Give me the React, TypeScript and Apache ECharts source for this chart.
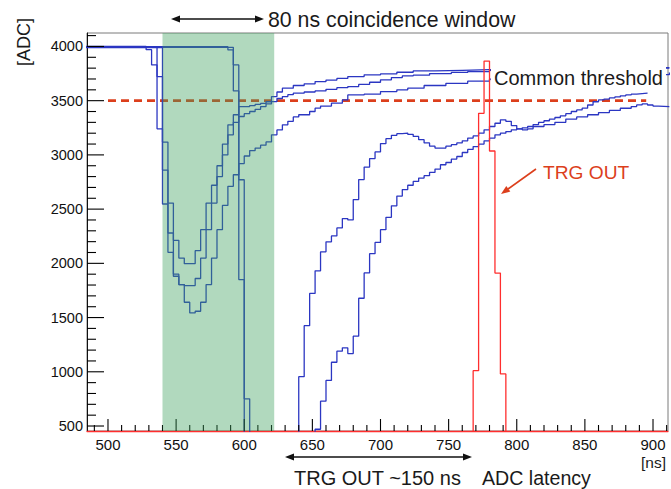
import React, { useEffect, useRef } from 'react';
import * as echarts from 'echarts';

// ---------- axis ranges / annotations (data units) ----------
const X_RANGE = [484.6, 911];
const Y_RANGE = [454, 4124];
const X_TICKS = [
  490, 500, 510, 520, 530, 540, 550, 560, 570, 580, 590, 600, 610, 620, 630, 640, 650, 660, 670, 680, 690, 700,
  710, 720, 730, 740, 750, 760, 770, 780, 790, 800, 810, 820, 830, 840, 850, 860, 870, 880, 890, 900, 910,
];
const Y_TICKS = [
  500, 600, 700, 800, 900, 1000, 1100, 1200, 1300, 1400, 1500, 1600, 1700, 1800, 1900, 2000, 2100, 2200, 2300,
  2400, 2500, 2600, 2700, 2800, 2900, 3000, 3100, 3200, 3300, 3400, 3500, 3600, 3700, 3800, 3900, 4000, 4100,
];
const COINCIDENCE_WINDOW = [540, 622];
const THRESHOLD = 3500;
const THRESHOLD_RANGE = [500, 895];

// ---------- histogram traces: [bin low edge (ns), ADC] change points ----------
const TRACE_U1 = [
  [484, 3995], [536, 3240], [540, 3118], [544, 2556], [548, 2212], [552, 2049], [556, 1997], [564, 2117],
  [568, 2310], [572, 2556], [576, 2720], [580, 2900], [584, 3100], [588, 3277], [592, 3370], [596, 3446],
  [604, 3455], [608, 3465], [612, 3475], [616, 3490], [620, 3538], [624, 3580], [628, 3615], [636, 3640],
  [644, 3655], [652, 3676], [660, 3690], [668, 3705], [676, 3722], [688, 3738], [700, 3747], [712, 3762],
  [724, 3774], [740, 3780], [760, 3786], [780, 3792], [840, 3805], [912, 3805],
];
const TRACE_U2 = [
  [484, 4000], [528, 3970], [532, 3830], [536, 3722], [540, 2547], [544, 2280], [548, 1881], [552, 1804],
  [556, 1795], [564, 1860], [568, 2049], [572, 2310], [576, 2556], [580, 2800], [584, 3000], [588, 3185],
  [592, 3300], [596, 3354], [600, 3380], [604, 3400], [608, 3420], [612, 3446], [616, 3470], [620, 3492],
  [624, 3520], [628, 3538], [632, 3555], [636, 3569], [644, 3580], [652, 3590], [660, 3605], [668, 3620],
  [676, 3630], [684, 3650], [692, 3670], [700, 3692], [708, 3713], [716, 3728], [724, 3735], [736, 3750],
  [752, 3760], [764, 3768], [780, 3780], [820, 3790], [880, 3800], [912, 3800],
];
const TRACE_U3 = [
  [484, 3990], [540, 2860], [544, 2102], [548, 1900], [552, 1804], [556, 1641], [560, 1543], [564, 1558],
  [568, 1641], [572, 1804], [576, 2049], [580, 2310], [584, 2534], [588, 2710], [592, 2817], [596, 2920],
  [600, 2990], [604, 3040], [608, 3063], [612, 3090], [616, 3120], [620, 3185], [624, 3230], [628, 3277],
  [632, 3310], [636, 3350], [640, 3370], [648, 3400], [652, 3431], [656, 3450], [664, 3477], [672, 3507],
  [676, 3553], [688, 3560], [700, 3584], [712, 3600], [720, 3615], [732, 3640], [748, 3660], [764, 3680],
  [780, 3698], [820, 3720], [860, 3740], [912, 3760],
];
const TRACE_D = [
  [484, 3998], [588, 3968], [592, 3830], [596, 2771], [600, 0], [640, 955], [644, 1425], [648, 1723],
  [652, 1931], [656, 2106], [660, 2198], [664, 2253], [668, 2327], [672, 2413], [676, 2400], [680, 2588],
  [684, 2772], [688, 2888], [692, 2966], [696, 3027], [700, 3104], [704, 3150], [708, 3180], [712, 3196],
  [716, 3201], [720, 3190], [724, 3170], [728, 3140], [732, 3110], [736, 3080], [740, 3063], [748, 3080],
  [752, 3094], [756, 3110], [760, 3130], [764, 3155], [768, 3175], [772, 3200], [776, 3231], [780, 3262],
  [784, 3292], [788, 3323], [792, 3310], [796, 3270], [800, 3240], [804, 3231], [808, 3240], [812, 3262],
  [820, 3280], [828, 3300], [836, 3330], [844, 3350], [852, 3370], [860, 3390], [868, 3410], [876, 3430],
  [884, 3446], [888, 3461], [892, 3470], [896, 3460], [900, 3450], [904, 3446], [912, 3446],
];
const TRACE_E = [
  [484, 3992], [592, 3590], [596, 1850], [600, 751], [604, 0], [652, 470], [656, 729], [660, 920],
  [664, 1088], [668, 1190], [672, 1221], [676, 1168], [680, 1328], [684, 1678], [688, 1912], [692, 2089],
  [696, 2193], [700, 2310], [704, 2424], [708, 2530], [712, 2620], [716, 2680], [720, 2720], [724, 2755],
  [728, 2786], [732, 2808], [736, 2838], [740, 2869], [744, 2909], [748, 2930], [752, 2961], [756, 2985],
  [760, 3022], [764, 3050], [768, 3077], [772, 3100], [776, 3130], [780, 3155], [784, 3185], [788, 3200],
  [792, 3215], [796, 3231], [800, 3240], [804, 3250], [808, 3262], [812, 3280], [816, 3300], [820, 3315],
  [824, 3330], [828, 3345], [832, 3360], [836, 3380], [840, 3400], [844, 3415], [848, 3431], [852, 3460],
  [856, 3490], [860, 3507], [864, 3515], [868, 3525], [872, 3535], [876, 3545], [880, 3553], [884, 3560],
  [888, 3565], [892, 3569], [896, 3569],
];
const TRACE_TRG_OUT = [
  [484, 0], [768, 1010], [772, 3383], [776, 3865], [780, 3036], [784, 1910], [788, 980], [792, 0], [912, 0],
];

const FONT = '"Liberation Sans", Arial, Helvetica, sans-serif';
const BLUE = '#2b36c2';
const RED = '#ff2e2e';
const ORANGE = '#dc3f1c';
const INK = '#1a1a1a';

const stepSeries = (name: string, data: number[][], color: string, width: number, z: number) => ({
  type: 'line',
  name,
  data,
  step: 'end',
  symbol: 'none',
  showSymbol: false,
  clip: true,
  silent: true,
  z,
  lineStyle: { color, width },
});

const arrowHead = (tip: number[], base1: number[], base2: number[], color: string) => ({
  type: 'polygon',
  z: 100,
  shape: { points: [tip, base1, base2] },
  style: { fill: color },
});

const text = (t: string, x: number, y: number, size: number, color = INK) => ({
  type: 'text',
  x,
  y,
  z: 101,
  style: { text: t, fill: color, font: `${size}px ${FONT}`, verticalAlign: 'middle', align: 'left' },
});

export default function App() {
  const ref = useRef<HTMLDivElement>(null);

  useEffect(() => {
    const chart = echarts.init(ref.current!, null, { renderer: 'svg' });
    const xLabel = (v: number) => (Math.abs(v % 50) < 1e-6 ? String(v) : '');
    const yLabel = (v: number) => (Math.abs(v % 500) < 1e-6 ? String(v) : '');

    // ticks drawn through the axes' scales (pixel lengths applied after coordinate conversion)
    const tickRender = (isX: boolean) => (_params: any, api: any) => {
      const children: any[] = [];
      const list = isX ? X_TICKS : Y_TICKS;
      list.forEach((v) => {
        if (isX) {
          const p = api.coord([v, Y_RANGE[0]]);
          const len = v % 50 === 0 ? 12 : 6;
          children.push({ type: 'line', shape: { x1: p[0], y1: p[1], x2: p[0], y2: p[1] - len }, style: { stroke: '#000', lineWidth: 1.1 } });
        } else {
          const p = api.coord([X_RANGE[0], v]);
          const len = v % 500 === 0 ? 17 : 9;
          children.push({ type: 'line', shape: { x1: p[0], y1: p[1], x2: p[0] + len, y2: p[1] }, style: { stroke: '#000', lineWidth: 1.1 } });
        }
      });
      return { type: 'group', children };
    };

    const option: any = {
      animation: false,
      backgroundColor: '#ffffff',
      grid: {
        left: 87,
        right: 3,
        top: 33,
        bottom: 58,
        show: true,
        borderColor: '#7a7a7a',
        borderWidth: 1,
        containLabel: false,
        outerBoundsMode: 'none',
      },
      xAxis: {
        type: 'value',
        min: X_RANGE[0],
        max: X_RANGE[1],
        splitNumber: 8,
        minInterval: 50,
        maxInterval: 50,
        axisLine: { show: true, onZero: false, lineStyle: { color: RED, width: 1.3 } },
        axisTick: { show: false },
        minorTick: { show: false },
        axisLabel: { formatter: xLabel, margin: 6, color: '#111', fontSize: 15, fontFamily: FONT },
        splitLine: { show: false },
      },
      yAxis: {
        type: 'value',
        min: Y_RANGE[0],
        max: Y_RANGE[1],
        splitNumber: 7,
        minInterval: 500,
        maxInterval: 500,
        axisLine: { show: true, onZero: false, lineStyle: { color: '#111', width: 1 } },
        axisTick: { show: false },
        axisLabel: { formatter: yLabel, margin: 4, color: '#111', fontSize: 14.5, fontFamily: FONT },
        splitLine: { show: false },
      },
      series: [
        {
          type: 'line',
          name: 'threshold',
          data: [[THRESHOLD_RANGE[0], THRESHOLD], [THRESHOLD_RANGE[1], THRESHOLD]],
          symbol: 'none',
          silent: true,
          z: 1,
          lineStyle: { color: ORANGE, width: 2.6, type: [8, 5] },
        },
        stepSeries('U1', TRACE_U1, BLUE, 1.3, 3),
        stepSeries('U2', TRACE_U2, BLUE, 1.3, 3),
        stepSeries('U3', TRACE_U3, BLUE, 1.3, 3),
        stepSeries('D', TRACE_D, BLUE, 1.3, 3),
        stepSeries('E', TRACE_E, BLUE, 1.3, 3),
        stepSeries('TRG OUT', TRACE_TRG_OUT, RED, 1.3, 4),
        {
          type: 'custom',
          name: 'x ticks',
          coordinateSystem: 'cartesian2d',
          silent: true,
          z: 6,
          data: [[X_TICKS[0], Y_RANGE[0]]],
          renderItem: tickRender(true),
        },
        {
          type: 'custom',
          name: 'y ticks',
          coordinateSystem: 'cartesian2d',
          silent: true,
          z: 6,
          data: [[X_RANGE[0], Y_TICKS[0]]],
          renderItem: tickRender(false),
        },
        {
          type: 'line',
          name: 'window',
          data: [[COINCIDENCE_WINDOW[0], THRESHOLD], [COINCIDENCE_WINDOW[1], THRESHOLD]],
          symbol: 'none',
          silent: true,
          z: 10,
          lineStyle: { opacity: 0 },
          markArea: {
            silent: true,
            z: 10,
            itemStyle: { color: 'rgba(60,160,92,0.4)', borderWidth: 0 },
            data: [[{ xAxis: COINCIDENCE_WINDOW[0] }, { xAxis: COINCIDENCE_WINDOW[1] }]],
          },
        },
      ],
      graphic: [
        // title + double arrow
        { type: 'line', z: 100, shape: { x1: 177, y1: 19, x2: 258, y2: 19 }, style: { stroke: '#111', lineWidth: 1.3 } },
        arrowHead([171, 19], [180, 15.5], [180, 22.5], '#111'),
        arrowHead([264, 19], [255, 15.5], [255, 22.5], '#111'),
        text('80 ns coincidence window', 268, 20, 21.3),
        // legend-like box
        { type: 'rect', z: 60, shape: { x: 491, y: 58, width: 175, height: 33 }, style: { fill: '#ffffff' } },
        text('Common threshold', 494, 78, 20),
        // TRG OUT label + arrow
        text('TRG OUT', 543, 172, 19.2, ORANGE),
        { type: 'line', z: 100, shape: { x1: 536, y1: 169, x2: 508, y2: 189 }, style: { stroke: ORANGE, lineWidth: 1.6 } },
        arrowHead([501, 194], [510.3, 191.6], [506.3, 185.9], ORANGE),
        // bottom double arrow
        { type: 'line', z: 100, shape: { x1: 291, y1: 457, x2: 466, y2: 457 }, style: { stroke: '#111', lineWidth: 1.3 } },
        arrowHead([285, 457], [294, 453.5], [294, 460.5], '#111'),
        arrowHead([472, 457], [463, 453.5], [463, 460.5], '#111'),
        text('TRG OUT ~150 ns', 294, 478, 20),
        text('ADC latency', 482, 478, 19.6),
        // axis units
        text('[ns]', 641, 462, 15.5),
        {
          type: 'text',
          x: 24,
          y: 42,
          z: 101,
          rotation: Math.PI / 2,
          style: { text: '[ADC]', fill: INK, font: `18px ${FONT}`, align: 'center', verticalAlign: 'middle' },
        },
      ],
    };

    chart.setOption(option);
    return () => chart.dispose();
  }, []);

  return <div ref={ref} style={{ position: 'fixed', left: 0, top: 0, width: 671, height: 489 }} />;
}
